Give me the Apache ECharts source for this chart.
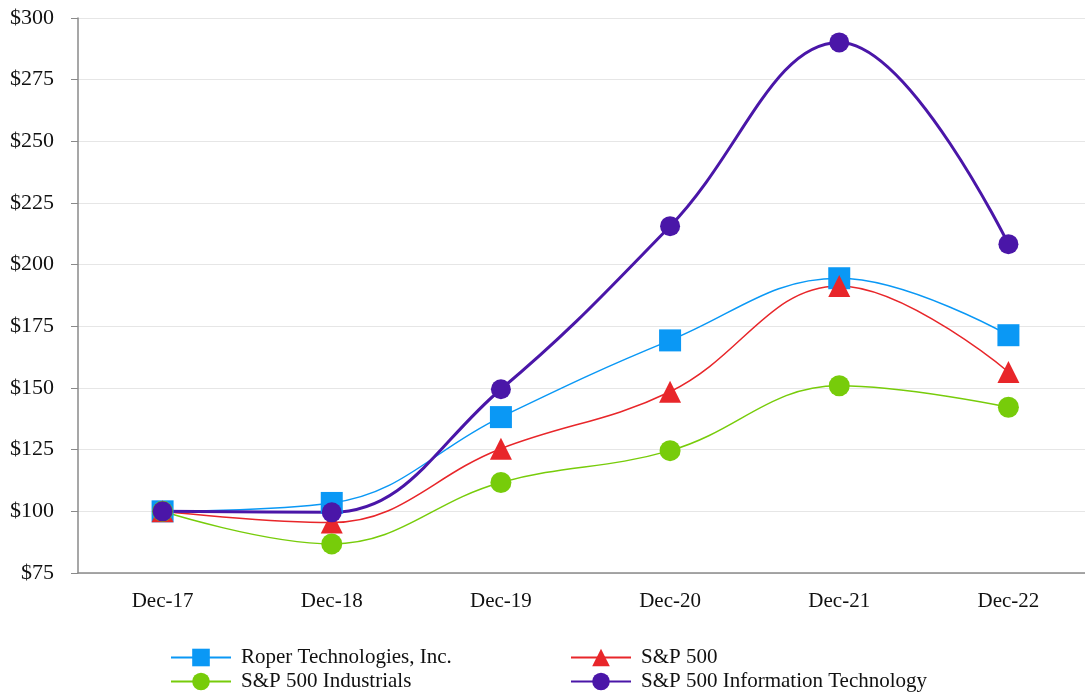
<!DOCTYPE html>
<html>
<head>
<meta charset="utf-8">
<script src="https://cdn.jsdelivr.net/npm/echarts@6/dist/echarts.min.js"></script>
<style>
  html, body { margin: 0; padding: 0; background: #fff; }
  #chart { width: 1085px; height: 698px; }
</style>
</head>
<body>
<div id="chart"></div>
<script>
// categories (x axis)
var years = ["Dec-17", "Dec-18", "Dec-19", "Dec-20", "Dec-21", "Dec-22"];
// cumulative value of $100 invested
var roper = [100, 103.4, 138.2, 169.3, 194.5, 171.4];
var sp500 = [100, 95.5, 125.4, 148.5, 191.4, 156.5];
var industrials = [100, 86.8, 111.7, 124.6, 150.9, 142.2];
var infoTech = [100, 99.6, 149.5, 215.6, 290.1, 208.3];

var font = "Liberation Serif";
var chart = echarts.init(document.getElementById("chart"));

function line(name, data, color, symbol, size, width) {
  return {
    name: name,
    type: "line",
    data: data,
    smooth: 0.4,
    symbol: symbol,
    symbolSize: size,
    lineStyle: { color: color, width: width },
    itemStyle: { color: color },
  };
}

var legendText = { fontFamily: font, fontSize: 21, color: "#111", padding: [0, 0, 0, 5] };

chart.setOption({
  animation: false,
  textStyle: { fontFamily: font },
  grid: { left: 78, width: 1015, top: 18, bottom: 125, outerBoundsMode: "none" },
  legend: [
    {
      left: 170,
      top: 647,
      padding: 0,
      orient: "vertical",
      itemWidth: 60,
      itemHeight: 22,
      itemGap: 3,
      data: ["Roper Technologies, Inc.", "S&P 500 Industrials"],
      textStyle: legendText,
    },
    {
      left: 570,
      top: 647,
      padding: 0,
      orient: "vertical",
      itemWidth: 60,
      itemHeight: 22,
      itemGap: 3,
      data: ["S&P 500", "S&P 500 Information Technology"],
      textStyle: legendText,
    },
  ],
  xAxis: {
    type: "category",
    data: years,
    axisLine: { lineStyle: { color: "#8a8a8a", width: 1.5 } },
    axisTick: { alignWithLabel: true, length: 7, lineStyle: { color: "#8a8a8a" } },
    axisLabel: { fontFamily: font, fontSize: 21, color: "#111", margin: 18 },
  },
  yAxis: {
    type: "value",
    min: 75,
    max: 300,
    interval: 25,
    axisLine: { show: true, lineStyle: { color: "#8a8a8a", width: 1.5 } },
    axisTick: { show: true, length: 7, lineStyle: { color: "#8a8a8a" } },
    splitLine: { lineStyle: { color: "#e6e6e6" } },
    axisLabel: {
      fontFamily: font,
      fontSize: 22,
      color: "#111",
      margin: 24,
      formatter: function (v) { return "$" + v; },
    },
  },
  series: [
    line("Roper Technologies, Inc.", roper, "#0a98f5", "rect", 22, 1.5),
    line("S&P 500", sp500, "#e8262a", "triangle", 22, 1.5),
    line("S&P 500 Industrials", industrials, "#77cc0a", "circle", 21, 1.5),
    line("S&P 500 Information Technology", infoTech, "#4a16a8", "circle", 20, 3),
  ],
});
</script>
</body>
</html>
